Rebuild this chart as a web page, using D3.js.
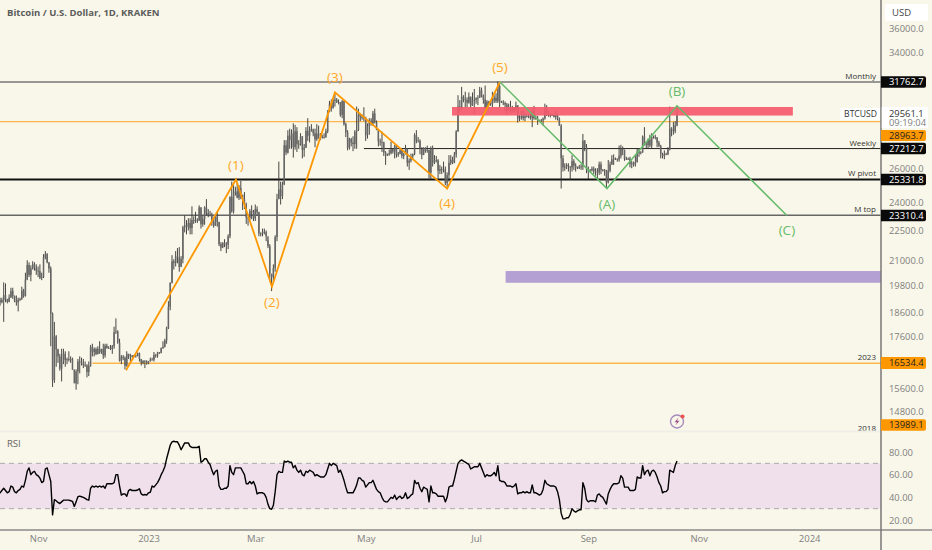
<!DOCTYPE html>
<html><head><meta charset="utf-8">
<style>html,body{margin:0;padding:0;background:#f9f7e9;overflow:hidden}svg{display:block}text{font-family:"Open Sans",sans-serif}</style>
<script src="https://cdnjs.cloudflare.com/ajax/libs/d3/7.8.5/d3.min.js"></script></head><body>
<svg id="c" width="932" height="550"></svg>
<script>
// Daily values in thousands of USD, first bar is 10 Oct 2022
const closes=[19.13,19.05,19.15,19.37,19.18,19.07,19.26,19.55,19.33,19.12,19.04,19.16,19.2,19.57,19.33,20.08,20.77,20.3,20.6,20.8,20.63,20.5,
20.48,20.15,20.2,21.15,21.3,20.9,20.6,18.55,15.9,17.6,17.07,16.8,16.33,16.6,16.9,16.66,16.69,16.7,16.7,16.28,15.78,16.22,16.6,16.6,16.52,16.46,16.45,16.2,16.44,17.17,
16.97,17.09,16.89,17.1,16.97,17.09,16.84,17.22,17.13,17.13,17.09,17.2,17.77,17.8,17.35,16.63,16.78,16.74,16.44,16.9,16.82,16.83,16.78,16.84,16.83,16.92,16.7,16.54,16.63,16.6,16.53,
16.61,16.67,16.67,16.85,16.83,16.95,16.94,17.12,17.18,17.44,17.94,18.85,19.93,20.95,20.87,21.18,21.13,20.67,21.07,22.67,22.78,22.7,22.9,22.63,23.05,23.0,23.07,23.03,23.74,22.83,23.12,
23.73,23.43,23.32,23.32,22.93,22.76,23.25,22.96,21.8,21.63,21.86,21.78,21.78,22.2,24.33,23.52,24.57,24.63,24.28,24.84,24.44,24.19,23.95,23.19,23.16,23.55,23.49,23.14,
23.65,23.47,22.35,22.35,22.43,22.41,22.2,21.7,20.36,20.19,20.63,22.16,24.2,24.75,24.38,25.05,27.42,26.96,28.04,27.77,28.18,27.31,28.33,27.49,27.49,28.0,27.14,27.27,28.35,28.03,28.47,
28.45,28.2,27.8,28.17,28.17,28.0,27.9,27.95,28.33,29.65,30.2,29.9,30.4,30.48,30.3,30.32,29.43,30.38,28.8,28.25,27.26,27.82,27.6,27.5,28.3,28.42,29.47,29.3,29.23,29.23,
28.07,28.67,29.03,28.84,29.53,28.9,28.45,27.67,27.63,27.6,26.97,26.8,26.78,26.92,27.17,27.03,27.4,26.82,26.89,27.1,26.75,26.85,27.22,26.33,26.47,26.72,26.87,28.08,27.74,27.7,27.2,
26.82,27.25,27.07,27.12,25.73,27.23,26.34,26.5,26.48,25.85,25.94,25.9,25.92,25.12,25.58,26.33,26.51,26.34,26.84,28.31,30.0,29.89,30.68,30.53,30.46,30.27,30.69,30.08,30.45,30.47,
30.59,30.62,31.15,30.77,30.5,29.9,30.35,30.29,30.17,30.41,30.62,30.38,31.47,30.32,30.3,30.25,30.14,29.86,29.91,29.8,29.9,29.79,30.08,29.18,29.23,29.35,29.21,29.32,29.35,29.28,29.23,
29.7,29.18,29.18,29.07,29.04,29.05,29.18,29.77,29.56,29.43,29.4,29.42,29.28,29.4,29.17,28.7,26.6,26.05,26.1,26.2,26.12,26.05,26.43,26.16,26.05,26.0,26.1,26.1,27.72,27.3,25.94,
25.8,25.87,25.97,25.82,25.79,25.75,26.24,25.9,25.9,25.84,25.16,25.85,26.23,26.54,26.6,26.57,26.53,26.76,27.21,27.13,26.57,26.58,26.58,26.25,26.3,26.22,26.37,27.03,26.91,26.97,
27.98,27.5,27.43,27.79,27.41,27.95,27.97,27.93,27.59,27.39,26.87,26.76,26.86,26.86,27.16,28.5,28.4,28.33,28.72,29.56];
const highs=[19.5,19.25,19.25,19.95,19.9,19.2,19.4,19.7,19.7,19.35,19.35,19.25,19.25,19.75,19.65,20.4,21.0,20.9,20.75,20.95,20.9,20.8,
20.7,20.8,20.4,21.3,21.45,21.35,20.9,20.7,18.6,18.2,17.65,17.1,16.9,17.1,17.1,17.0,16.75,17.0,16.8,16.75,16.3,16.3,16.7,16.8,16.75,16.7,16.6,16.5,16.6,17.25,
17.3,17.15,17.15,17.2,17.4,17.1,17.3,17.3,17.3,17.2,17.25,17.25,18.0,18.35,17.85,17.5,16.85,16.85,16.8,17.0,16.9,16.9,16.85,16.86,16.86,16.95,16.95,16.7,16.65,16.65,16.65,
16.62,16.75,16.75,16.97,16.9,16.98,16.97,17.15,17.4,17.5,18.0,19.1,19.95,21.25,21.05,21.45,21.6,21.65,21.2,22.75,23.3,23.05,23.15,23.15,23.8,23.25,23.5,23.15,23.85,23.75,23.3,
23.8,24.2,23.65,23.55,23.45,23.15,23.35,23.45,22.95,21.9,21.9,22.05,21.9,22.3,24.35,25.2,25.0,24.9,25.1,25.0,25.25,24.45,24.6,24.0,23.2,23.65,23.85,23.6,
23.9,23.8,23.5,22.4,22.6,22.6,22.5,22.0,21.8,20.3,20.8,22.25,24.5,26.4,25.2,25.2,27.75,27.75,28.4,28.5,28.45,28.85,28.75,28.6,27.75,28.2,28.0,27.5,28.6,29.2,28.65,
28.8,28.5,28.5,28.8,28.7,28.2,28.1,28.2,28.5,29.75,30.4,30.5,30.6,31.0,30.6,30.5,30.3,30.45,30.4,28.9,28.4,27.9,27.9,28.0,28.4,30.0,29.85,29.55,29.45,29.95,
29.3,28.85,29.2,29.2,29.7,29.85,29.05,28.45,27.85,28.3,27.65,27.05,26.9,27.15,27.65,27.2,27.45,27.45,27.0,27.2,27.25,26.95,27.45,27.2,26.6,26.9,26.9,28.2,28.4,27.95,27.8,
27.3,27.3,27.3,27.4,27.15,27.35,27.4,26.8,26.75,26.55,26.2,26.1,26.4,26.1,25.75,26.8,26.8,26.7,27.0,28.4,30.8,30.45,31.4,30.8,31.05,30.65,31.0,30.7,31.0,31.25,
30.65,30.8,31.4,31.35,30.85,31.5,30.45,30.4,30.45,31.05,30.8,30.95,31.8,31.65,30.4,30.45,30.35,30.25,30.2,30.4,30.05,29.95,30.35,30.1,29.4,29.7,29.7,29.55,29.45,29.45,29.5,
29.75,30.05,29.4,29.35,29.1,29.15,29.25,30.2,30.1,29.7,29.55,29.45,29.45,29.7,29.5,29.25,28.8,26.8,26.3,26.3,26.3,26.1,26.8,26.55,26.3,26.1,26.2,26.25,28.15,27.75,27.5,
26.1,25.95,26.1,26.1,26.0,26.0,26.4,26.4,25.95,25.95,25.9,26.5,26.4,26.8,26.85,26.65,26.6,27.4,27.45,27.35,27.15,26.7,26.65,26.7,26.45,26.4,26.8,27.25,27.2,27.05,
28.05,28.6,27.65,27.85,28.1,28.2,28.05,28.1,27.95,27.7,27.45,26.95,27.1,26.95,27.3,30.0,28.6,28.95,29.0,30.05];
const lows=[19.0,18.9,19.0,18.2,19.05,19.0,19.05,19.25,19.2,19.05,18.9,18.65,19.1,19.15,19.25,19.3,20.05,20.2,20.0,20.55,20.5,20.3,
20.2,20.1,20.05,20.15,21.05,20.85,20.4,17.2,15.65,15.8,16.4,16.55,16.25,15.85,16.5,16.4,16.5,16.6,16.55,16.6,16.2,15.55,15.75,16.15,16.45,16.35,16.4,16.0,16.05,16.4,
16.8,16.8,16.85,16.88,16.9,16.9,16.7,16.75,17.1,17.1,17.05,16.9,17.1,17.7,17.3,16.6,16.5,16.65,16.3,16.4,16.7,16.6,16.75,16.78,16.75,16.8,16.6,16.45,16.5,16.35,16.48,
16.5,16.6,16.65,16.6,16.75,16.75,16.9,16.92,17.1,17.15,17.3,17.9,18.7,19.9,20.55,20.7,20.85,20.45,20.7,20.85,22.4,22.3,22.5,22.3,22.3,22.85,22.9,22.9,23.0,22.6,22.7,
22.8,23.3,23.2,23.25,22.75,22.65,22.75,22.7,21.7,21.45,21.6,21.65,21.35,21.55,22.1,23.45,23.4,24.4,24.25,24.15,24.2,23.6,23.65,22.85,22.75,23.05,23.1,23.0,
23.0,23.3,22.2,22.2,22.2,22.3,21.95,21.6,20.05,19.55,20.0,20.45,21.95,24.2,23.9,24.2,25.0,26.8,26.9,27.2,27.2,26.65,27.15,27.0,27.2,27.4,26.6,26.7,27.25,27.7,27.6,
28.3,28.0,27.3,27.7,27.85,27.75,27.85,27.85,27.9,28.2,29.6,29.65,29.85,30.0,30.25,30.15,29.3,29.2,28.7,27.95,27.1,27.15,27.35,27.05,27.2,27.2,28.35,29.0,29.1,29.0,
27.7,27.85,28.1,28.7,28.7,28.85,28.4,27.35,27.4,27.0,26.75,26.2,26.75,26.85,26.85,26.9,26.6,26.65,26.7,26.85,26.6,26.55,26.85,26.1,25.9,26.35,26.55,26.8,27.55,27.6,26.85,
26.55,26.8,26.95,26.95,25.4,25.35,26.1,26.25,26.35,25.4,25.65,25.65,25.75,25.0,24.8,25.2,26.2,26.25,26.3,26.65,28.3,29.6,29.8,30.3,29.95,29.95,30.2,29.9,30.05,29.5,
30.2,30.1,30.6,30.65,30.2,29.85,29.75,30.05,30.05,29.95,30.25,30.25,30.25,29.95,30.25,30.1,29.7,29.5,29.7,29.55,29.6,29.6,29.7,28.9,29.0,29.1,29.05,29.0,29.25,29.2,29.1,
28.6,29.1,29.1,28.75,28.95,28.95,28.7,29.1,29.35,29.3,29.25,29.35,29.25,29.1,29.05,28.7,24.8,25.8,25.85,25.95,25.8,25.3,25.8,25.9,25.8,25.95,25.95,25.9,25.9,27.05,25.7,
25.35,25.75,25.8,25.65,25.55,25.4,25.6,25.65,25.8,25.55,24.85,25.1,25.75,26.2,26.2,26.5,26.4,26.4,26.6,26.8,26.45,26.5,26.5,26.05,26.0,26.1,26.1,26.35,26.7,26.85,
26.95,27.4,27.2,27.2,27.3,27.2,27.85,27.8,27.3,27.3,26.6,26.6,26.55,26.8,26.8,27.1,28.0,28.1,28.2,28.65];
const rsi=[43,44,46,48,46,44,45,50,49,45,44,46,47,50,49,55,63,66,60,62,63,60,59,57,53,54,65,66,60,54,24.5,38,37,35.5,34.5,36,37.5,37.5,37.5,37.5,37,36.5,32,36,40.5,41,40.5,40,39,38,37.5,48,50,49,50,49,50,49,50,48,52,52,52,52,53,60,60,50,42,43,43,41,46,47,46,46,46,46.5,47.5,43,42,42.5,42,44,44.5,50,49,51,53,56,60,63,67,74,80,86,89,89.5,89,89,86,82,85,88,88,88,85,84,84,84,84,85,71,72,74,74,71,69,64,60,63,64,50,47,47,48,48,50,68,62,60,66,66,66,66,63,60,52,52,54,52,54,50,43,44,44,44,43,40,34,30,29.5,33,45,60,63,62,62,72,71,72,71,71,66,68,64,62,64,60,59,63,62,64,63,62,59,60,59,58,58,58,60,65,70,68,70,69,68,62,
64,60,55,49,44,44,44,44,47,51,57,57,55,54,49,51,53,53,55,51,47,45,44,40,37,36,36,38,40,39,42,38,40,41,39,40,44,39,40,42,43,55,52,53,48,45,49,48,47,36,50,44,44,43,41,41,41,41,36,40,49,50,50,56,63,70,72,73,72,71,70,69,65,66,67,67,67,70,66,62,58,60,59,59,60,62,59,68,55,54,54,53,50,50,50,49,50,52,43,44,44,45,44,45,44,44,51,44,44,43,42,43,47,55,52,51,50,50,50,49,45,38,26,21,21,22,22,25,30,28,27,28,29,29,53,48,38,36,37,37,37,36,42,43,41,40,37,34,43,47,50,52,52,52,53,59,57,49,49,49,46,46,46,47,58,57,57,68,60,63,64,59,63,64,62,58,53,50,44,45,45,47,64,63,62,68,72];

const priceTicks=[36000,34000,26000,24000,22500,21000,19800,18600,17600,15600,14800];
const rsiTicks=[80,60,40,20];
const timeTickDays=[22,83,142,203,264,326,387,448];
const timeTickLabels=["Nov","2023","Mar","May","Jul","Sep","Nov","2024"];
const levelNames=["Monthly","Weekly","W pivot","M top","2023","2018"];
const levelPrices=[31762.7,27212.7,25331.8,23310.4,16534.4,13989.1];
const levelStartDays=[0,202,0,0,52,0];
const wave1Days=[70.6,131.3,151.2,186,248,277.2];
const wave1Prices=[16.27,25.33,19.75,31.0,24.8,31.76];
const wave1Labels=["","(1)","(2)","(3)","(4)","(5)"];
const wave2Days=[277.2,336.3,375,435.7];
const wave2Prices=[31.76,24.8,30.05,23.3];
const wave2Labels=["","(A)","(B)","(C)"];
const zoneDays=[[250.7,439],[280.3,487.7]];
const zonePrices=[[29.97,29.38],[20.48,19.93]];

const W=881,bg="#f9f7e9",orange="#ff9800",green="#66bb6a";
const svg=d3.select("#c");
svg.append("rect").attr("width",932).attr("height",550).attr("fill",bg);
const x=d3.scaleLinear().domain([0,487.7]).range([-1.73,W]);
const y=d3.scaleLog().domain([36000,14800]).range([28,411]);
const yk=v=>y(v*1000);
const r=d3.scaleLinear().domain([80,20]).range([452,520]);

svg.append("defs").append("clipPath").attr("id","pane").append("rect").attr("width",W).attr("height",431);
const g=svg.append("g").attr("clip-path","url(#pane)");

// levels under the bars
const levelStyle={ "Monthly":["#777",1.5],"Weekly":["#222",1],"W pivot":["#111",2],"M top":["#666",1.5],"2023":["#ffb74d",1.5],"2018":["#ffb74d",1] };
levelNames.forEach((n,i)=>{g.append("line").attr("x1",x(levelStartDays[i])).attr("x2",W).attr("y1",y(levelPrices[i])).attr("y2",y(levelPrices[i]))
  .attr("stroke",levelStyle[n][0]).attr("stroke-width",levelStyle[n][1]);});
g.append("line").attr("x1",0).attr("x2",W).attr("y1",y(28963.7)).attr("y2",y(28963.7)).attr("stroke","#ffb74d").attr("stroke-width",1.2);

// candles
closes.forEach((c,i)=>{
  const o=i?closes[i-1]:c, X=x(i);
  g.append("line").attr("x1",X).attr("x2",X).attr("y1",yk(highs[i])).attr("y2",yk(lows[i])).attr("stroke","#333").attr("stroke-width",0.9);
  const t=Math.min(yk(o),yk(c)),b=Math.max(yk(o),yk(c));
  g.append("rect").attr("x",X-0.75).attr("width",1.5).attr("y",t).attr("height",Math.max(b-t,0.8)).attr("fill","#666");
});

// zones
const zoneFill=["#f4596b","#b5a0d4"], zoneOp=[0.92,1];
zoneDays.forEach((d,i)=>{g.append("rect").attr("x",x(d[0])).attr("width",x(d[1])-x(d[0])).attr("y",yk(zonePrices[i][0])).attr("height",yk(zonePrices[i][1])-yk(zonePrices[i][0])).attr("fill",zoneFill[i]).attr("opacity",zoneOp[i]);});

// waves
const line=d3.line().x(d=>x(d[0])).y(d=>yk(d[1]));
g.append("path").attr("d",line(d3.zip(wave1Days,wave1Prices))).attr("fill","none").attr("stroke",orange).attr("stroke-width",1.8);
g.append("path").attr("d",line(d3.zip(wave2Days,wave2Prices))).attr("fill","none").attr("stroke",green).attr("stroke-width",1.5);
function lab(days,prices,labels,col,offs){labels.forEach((t,i)=>{if(!t)return;
  svg.append("text").attr("x",x(days[i])).attr("y",yk(prices[i])+offs[i]).attr("text-anchor","middle").attr("fill",col).attr("font-size",13.5).attr("font-weight",500).text(t);});}
lab(wave1Days,wave1Prices,wave1Labels,"#ffa726",[0,-9,20,-10,19,-10]);
lab(wave2Days,wave2Prices,wave2Labels,"#66bb6a",[0,20,-10,20]);

// level captions
const capY=[79,146,176,212,360,431];
levelNames.forEach((n,i)=>{svg.append("text").attr("x",876).attr("y",capY[i]).attr("text-anchor","end").attr("font-size",8).attr("fill","#333").text(n);});

// logo
const logo=svg.append("g").attr("transform","translate("+x(375)+",421.5)");
logo.append("circle").attr("r",6.5).attr("fill","#f9f7e9").attr("stroke","#a78bbf").attr("stroke-width",1.4);
logo.append("path").attr("d","M1.5,-4L-2.5,0.8L0,0.8L-1.5,4L2.5,-0.8L0,-0.8Z").attr("fill","#a0528a");
logo.append("circle").attr("cx",5.5).attr("cy",-5).attr("r",2).attr("fill","#ef5350");

// pane separator and frame
svg.append("rect").attr("x",0).attr("y",430.5).attr("width",W).attr("height",2).attr("fill","#efefe8");

// RSI
svg.append("rect").attr("x",0).attr("y",r(70)).attr("width",W).attr("height",r(30)-r(70)).attr("fill","#f0e0ec");
[70,30].forEach(v=>svg.append("line").attr("x1",0).attr("x2",W).attr("y1",r(v)).attr("y2",r(v)).attr("stroke","#aaa").attr("stroke-dasharray","5 4").attr("stroke-width",1));
svg.append("path").attr("d",d3.line().x((d,i)=>x(i)).y(d=>r(d))(rsi)).attr("fill","none").attr("stroke","#000").attr("stroke-width",1.4).attr("stroke-linejoin","round");
svg.append("text").attr("x",7).attr("y",447).attr("font-size",9.5).attr("fill","#666").text("RSI");

// frame lines
svg.append("line").attr("x1",0).attr("x2",932).attr("y1",530).attr("y2",530).attr("stroke","#8a8a8a").attr("stroke-width",1.5);
svg.append("line").attr("x1",W).attr("x2",W).attr("y1",0).attr("y2",550).attr("stroke","#777").attr("stroke-width",1.5);

// axes
const FS=9.4;
const yAxis=d3.axisRight(y).tickValues(priceTicks).tickSize(0).tickPadding(8).tickFormat(d=>d3.format(".1f")(d));
const ya=svg.append("g").attr("transform","translate("+W+",0)").call(yAxis);
ya.select(".domain").remove();
ya.selectAll("text").attr("fill","#808080").style("font-size",FS+"px").style("font-family","'Open Sans',sans-serif");
const ra=svg.append("g").attr("transform","translate("+W+",0)").call(d3.axisRight(r).tickValues(rsiTicks).tickSize(0).tickPadding(8).tickFormat(d3.format(".2f")));
ra.select(".domain").remove();
ra.selectAll("text").attr("fill","#808080").style("font-size",FS+"px").style("font-family","'Open Sans',sans-serif");
const xa=svg.append("g").attr("transform","translate(0,531)").call(d3.axisBottom(x).tickValues(timeTickDays).tickSize(0).tickPadding(4).tickFormat((d,i)=>timeTickLabels[i]));
xa.select(".domain").remove();
xa.selectAll("text").attr("fill","#808080").style("font-size","9.5px").style("font-family","'Open Sans',sans-serif");

// price boxes
function box(cy,h,fill,txt,col){
  svg.append("path").attr("d",`M${W},${cy-h/2}h43a2,2 0 0 1 2,2v${h-4}a2,2 0 0 1 -2,2h-43Z`).attr("fill",fill);
  svg.append("text").attr("x",889).attr("y",cy+3.4).attr("font-size",FS).attr("fill",col).text(txt);
}
box(82,11.5,"#0a0a0a","31762.7","#fff");
box(135.5,11,orange,"28963.7","#222");
box(148.5,11.5,"#0a0a0a","27212.7","#fff");
box(179.5,11.5,"#0a0a0a","25331.8","#fff");
box(215.5,11.5,"#0a0a0a","23310.4","#fff");
box(363,12,orange,"16534.4","#222");
box(425,11.5,orange,"13989.1","#222");
// last price block
svg.append("rect").attr("x",W+0.75).attr("y",107).attr("width",46).attr("height",21).attr("fill","#fff");
svg.append("text").attr("x",889).attr("y",116.5).attr("font-size",FS).attr("fill","#333").text("29561.1");
svg.append("text").attr("x",889).attr("y",126).attr("font-size",FS).attr("fill","#808080").text("09:19:04");
svg.append("rect").attr("x",840).attr("y",108).attr("width",40).attr("height",12).attr("fill","#fff");
svg.append("text").attr("x",877).attr("y",117.3).attr("text-anchor","end").attr("font-size",8.6).attr("fill","#333").text("BTCUSD");

// USD button
svg.append("rect").attr("x",885).attr("y",4).attr("width",43).attr("height",17).attr("rx",2).attr("fill","#fff");
svg.append("text").attr("x",892).attr("y",16).attr("font-size",9.5).attr("fill","#444").text("USD");
// title
svg.append("text").attr("x",7).attr("y",15.5).attr("font-size",9.5).attr("font-weight",700).attr("fill","#5c5c5c").text("Bitcoin / U.S. Dollar, 1D, KRAKEN");
</script></body></html>
